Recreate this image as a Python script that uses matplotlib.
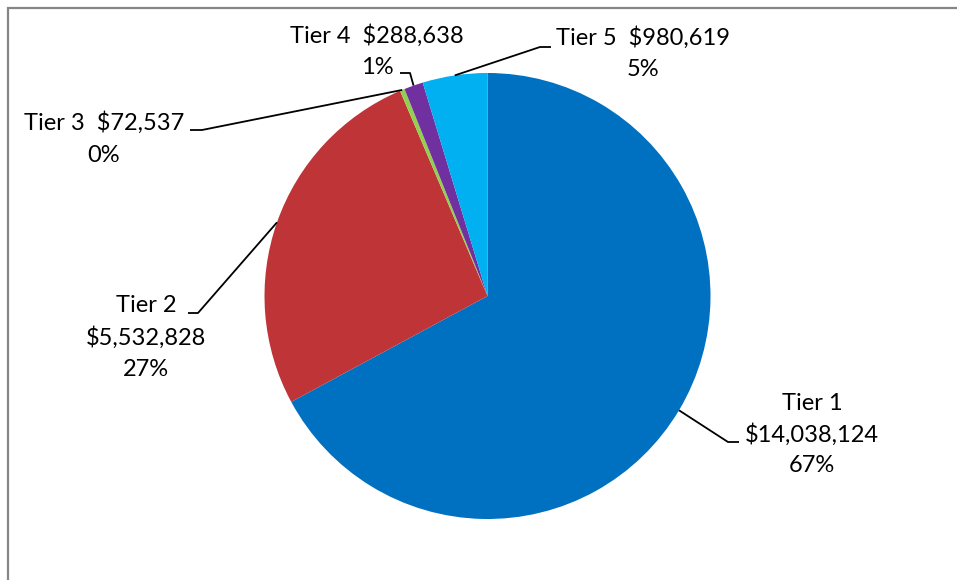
import numpy as np
import matplotlib
matplotlib.use("Agg")
import matplotlib.pyplot as plt
from matplotlib.patches import Rectangle

tiers = ["Tier 1", "Tier 2", "Tier 3", "Tier 4", "Tier 5"]
amounts = [14038124, 5532828, 72537, 288638, 980619]
pct_labels = ["67%", "27%", "0%", "1%", "5%"]
colors = ["#0070C0", "#BE3437", "#92D050", "#7030A0", "#00B0F0"]

plt.rcParams["font.family"] = ["Lato", "DejaVu Sans"]

W, H = 957, 580
fig = plt.figure(figsize=(W / 100, H / 100), dpi=100)
ax = fig.add_axes([0, 0, 1, 1])
ax.set_xlim(0, W)
ax.set_ylim(0, H)
ax.axis("off")

cx, cy, r = 487.5, H - 296, 223
wedges, _ = ax.pie(amounts, colors=colors, startangle=90, counterclock=False,
                   center=(cx, cy), radius=r, frame=True,
                   wedgeprops=dict(linewidth=0))
ax.set_xlim(0, W)
ax.set_ylim(0, H)
ax.axis("off")

def money(v):
    return "${:,}".format(v)

# label text layout (pixel positions from top-left), elbow and end of leader
# text: (x, y, ha, text)
fs = 17
lab = [
    dict(lines=[(812, 403, tiers[0]), (812, 435, money(amounts[0])), (812, 466, pct_labels[0])],
         elbow=(728, 442), end=(739, 442)),
    dict(lines=[(146, 306, tiers[1]), (146, 338, money(amounts[1])), (146, 370, pct_labels[1])],
         elbow=(198, 313), end=(188, 313)),
    dict(lines=[(104, 123, tiers[2] + "  " + money(amounts[2])), (104, 155, pct_labels[2])],
         elbow=(202, 130), end=(190, 130)),
    dict(lines=[(377, 36, tiers[3] + "  " + money(amounts[3])), (377, 68, pct_labels[3])],
         elbow=(410, 73), end=(400, 73)),
    dict(lines=[(643, 38, tiers[4] + "  " + money(amounts[4])), (643, 70, pct_labels[4])],
         elbow=(540, 47), end=(551, 47)),
]

for w, d in zip(wedges, lab):
    ang = np.deg2rad((w.theta1 + w.theta2) / 2)
    sx, sy = cx + r * np.cos(ang), cy + r * np.sin(ang)
    ex, ey = d["elbow"]
    fx, fy = d["end"]
    ax.plot([sx, ex, fx], [sy, H - ey, H - fy], color="black", lw=1.3,
            solid_capstyle="butt", zorder=3)
    for x, y, t in d["lines"]:
        ax.text(x, H - y, t, ha="center", va="center", fontsize=fs, color="black")

# chart area border (extends past right and bottom edges)
fig.patches.append(Rectangle((8 / W, -0.1), 1.2, 1 - 8 / H + 0.1,
                             transform=fig.transFigure, fill=False,
                             edgecolor="#868686", lw=1.6))

fig.savefig("out.png", dpi=100, facecolor="white")
